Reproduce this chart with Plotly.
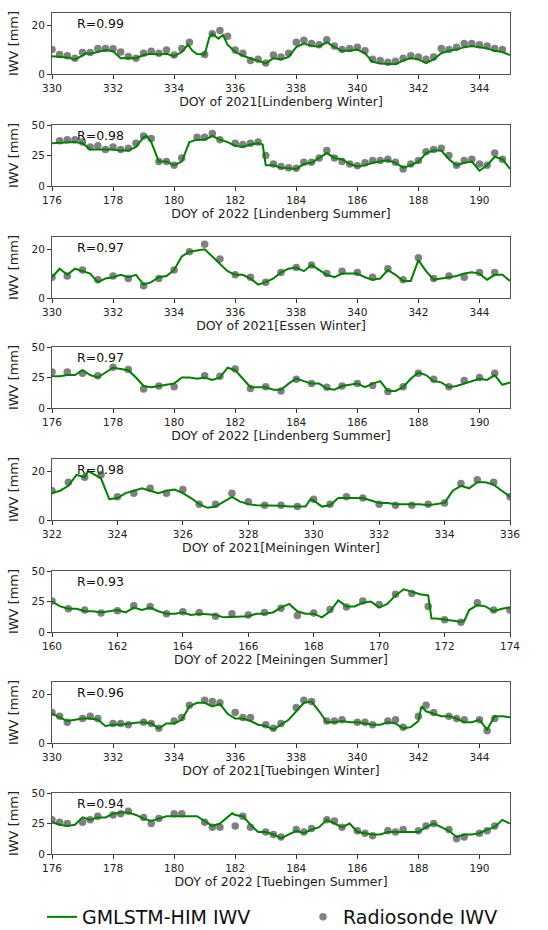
import plotly.graph_objects as go
from plotly.subplots import make_subplots

# ---------------- data ----------------
titles = ["DOY of 2021[Lindenberg Winter]", "DOY of 2022 [Lindenberg Summer]",
          "DOY of 2021[Essen Winter]", "DOY of 2022 [Lindenberg Summer]",
          "DOY of 2021[Meiningen Winter]", "DOY of 2022 [Meiningen Summer]",
          "DOY of 2021[Tuebingen Winter]", "DOY of 2022 [Tuebingen Summer]"]
r_values = ["R=0.99", "R=0.98", "R=0.97", "R=0.97", "R=0.98", "R=0.93", "R=0.96", "R=0.94"]
x_ranges = [[330, 345], [176, 191], [330, 345], [176, 191],
            [322, 336], [160, 174], [330, 345], [176, 191]]
y_ranges = [[0, 25], [0, 50], [0, 25], [0, 50], [0, 25], [0, 50], [0, 25], [0, 50]]
y_dticks = [20, 25, 20, 25, 20, 25, 20, 25]

# Panel 1: Lindenberg winter 2021
p1_line_x = [330, 330.25, 330.5, 330.75, 331, 331.1, 331.25, 331.5, 331.75, 332, 332.25, 332.5, 332.75,
             333, 333.25, 333.5, 333.75, 334, 334.25, 334.45, 334.6, 334.75, 335, 335.15, 335.25,
             335.45, 335.6, 335.75, 336, 336.25, 336.5, 336.75, 337, 337.25, 337.5, 337.75, 338,
             338.25, 338.5, 338.75, 339, 339.25, 339.5, 339.75, 340, 340.25, 340.5, 340.75, 341,
             341.25, 341.5, 341.75, 342, 342.25, 342.5, 342.75, 343, 343.25, 343.5, 343.75, 344,
             344.25, 344.5, 344.75, 345]
p1_line_y = [7.3, 7.2, 6.8, 6.0, 7.5, 8.5, 8.3, 9.0, 9.8, 9.3, 6.5, 6.6, 6.5,
             7.8, 8.3, 8.0, 8.3, 7.3, 9.0, 12.0, 9.5, 8.2, 8.0, 15.0, 16.5,
             14.5, 16.0, 12.0, 9.0, 7.5, 6.5, 5.5, 4.3, 6.5, 6.0, 7.0, 11.0,
             12.5, 11.5, 11.3, 13.0, 11.0, 9.5, 9.5, 10.0, 8.5, 5.0, 4.3, 4.2,
             4.0, 5.5, 6.5, 6.0, 4.5, 6.0, 8.5, 9.5, 10.0, 11.0, 11.5, 11.0,
             10.5, 9.5, 9.0, 7.8]
p1_sonde_x = [330, 330.25, 330.5, 330.75, 331, 331.25, 331.5, 331.75, 332, 332.25, 332.5, 332.75,
              333, 333.25, 333.5, 333.75, 334, 334.25, 334.5, 335, 335.25, 335.5, 335.75, 336,
              336.25, 336.5, 336.75, 337, 337.25, 337.5, 337.75, 338, 338.25, 338.5, 338.75, 339,
              339.25, 339.5, 339.75, 340, 340.25, 340.5, 340.75, 341, 341.25, 341.5, 341.75, 342,
              342.25, 342.5, 342.75, 343, 343.25, 343.5, 343.75, 344, 344.25, 344.5, 344.75]
p1_sonde_y = [10.0, 8.0, 7.5, 6.5, 8.8, 8.8, 10.5, 10.5, 10.3, 9.0, 7.2, 6.5,
              8.5, 9.3, 8.5, 9.8, 7.8, 10.5, 13.0, 8.0, 16.5, 17.8, 15.5, 9.8,
              8.5, 5.5, 6.0, 4.5, 7.8, 7.0, 8.5, 13.0, 13.8, 12.5, 12.0, 14.0,
              11.5, 10.0, 10.5, 11.0, 9.5, 6.0, 5.5, 4.8, 5.2, 6.5, 7.5, 7.0,
              6.0, 7.0, 10.5, 10.0, 11.0, 12.5, 12.5, 12.0, 11.5, 10.5, 10.0]

# Panel 2: Lindenberg summer 2022
p2_line_x = [176, 176.25, 176.5, 176.75, 177, 177.25, 177.5, 177.75, 178, 178.25, 178.5, 178.75,
             179, 179.1, 179.25, 179.5, 179.75, 180, 180.25, 180.5, 180.75, 181, 181.25, 181.5,
             181.75, 182, 182.25, 182.5, 182.75, 182.9, 183, 183.25, 183.5, 183.75, 184, 184.25,
             184.5, 184.75, 185, 185.25, 185.5, 185.75, 186, 186.25, 186.5, 186.75, 187, 187.25,
             187.5, 187.75, 188, 188.25, 188.5, 188.75, 189, 189.25, 189.5, 189.75, 190, 190.25,
             190.5, 190.75, 191]
p2_line_y = [35, 35.5, 36, 36, 35, 30, 30, 30, 30, 29, 29, 32,
             40, 41, 36, 20, 20, 17, 20, 36, 38, 38, 41, 38,
             36, 33, 32, 34, 35, 34, 17, 17, 15, 14.5, 14, 18,
             19, 23, 27, 23, 22, 18, 16, 17, 19, 20, 21, 19,
             15, 17, 20, 27, 29, 29, 22, 17, 19, 20, 12.5, 17,
             24, 22, 14]
p2_sonde_x = [176.25, 176.5, 176.75, 177, 177.25, 177.5, 177.75, 178, 178.25, 178.5, 178.75, 179,
              179.25, 179.5, 179.75, 180, 180.25, 180.75, 181, 181.25, 181.5, 182, 182.25, 182.5,
              182.75, 183, 183.25, 183.5, 183.75, 184, 184.25, 184.5, 184.75, 185, 185.25, 185.5,
              185.75, 186, 186.25, 186.5, 186.75, 187, 187.25, 187.5, 187.75, 188, 188.25, 188.5,
              188.75, 189, 189.25, 189.5, 189.75, 190, 190.25, 190.5, 190.75]
p2_sonde_y = [37, 38, 38, 36, 32, 33, 30, 32, 30, 31, 35, 41,
              39, 20, 20, 17, 23, 40, 40, 43, 38, 35, 34, 35,
              36, 25, 18, 16, 15, 14.5, 19.5, 19.5, 23, 29, 23, 20,
              18, 16.5, 19, 21, 21, 22, 19.5, 14, 18, 21, 28, 30,
              31, 25, 17, 21, 22, 18, 17, 27, 22]

# Panel 3: Essen winter 2021
p3_line_x = [330, 330.25, 330.5, 330.75, 331, 331.25, 331.5, 331.75, 332, 332.25, 332.5, 332.75,
             333, 333.25, 333.5, 333.75, 334, 334.25, 334.5, 334.75, 335, 335.25, 335.5, 335.75,
             336, 336.25, 336.5, 336.75, 337, 337.25, 337.5, 337.75, 338, 338.25, 338.5, 338.75,
             339, 339.25, 339.5, 339.75, 340, 340.25, 340.5, 340.75, 341, 341.25, 341.5, 341.75,
             342, 342.25, 342.5, 342.75, 343, 343.25, 343.5, 343.75, 344, 344.25, 344.5, 344.75, 345]
p3_line_y = [8.5, 12, 9.5, 12, 11, 10, 6.5, 8, 8.5, 9.5, 8.5, 9.5,
             5.5, 6.5, 8.5, 9, 11.5, 17, 19, 19.5, 20, 17, 14, 11,
             9.5, 9.5, 8, 5.5, 6.5, 8, 10.5, 12, 12.5, 11, 13.5, 11.5,
             9.5, 8.5, 10, 10, 10, 8.5, 7.5, 8, 11.5, 9.5, 7, 7,
             15.5, 11, 7.5, 8, 8.5, 9, 10, 10.5, 10, 7.5, 9.5, 9.5, 7]
p3_sonde_x = [330, 330.5, 331, 331.5, 332, 332.5, 333, 333.5, 334, 334.5, 335, 335.5,
              336, 336.5, 337, 337.5, 338, 338.5, 339, 339.5, 340, 340.5, 341, 341.5,
              342, 342.5, 343, 343.5, 344, 344.5]
p3_sonde_y = [8.5, 9, 11.5, 7.5, 9, 8, 5, 8, 11.5, 19, 22, 16,
              9.5, 8.5, 6.5, 10.5, 12.5, 13.5, 10, 11, 10.5, 8.5, 12, 7.5,
              16.5, 8, 9, 8.5, 10.5, 10.5]

# Panel 4: Lindenberg summer 2022 (second)
p4_line_x = [176, 176.25, 176.5, 176.75, 177, 177.25, 177.5, 177.75, 178, 178.25, 178.5, 178.75,
             179, 179.25, 179.5, 179.75, 180, 180.25, 180.5, 180.75, 181, 181.25, 181.5, 181.75,
             182, 182.25, 182.5, 182.75, 183, 183.25, 183.5, 183.75, 184, 184.25, 184.5, 184.75,
             185, 185.25, 185.5, 185.75, 186, 186.25, 186.5, 186.75, 187, 187.25, 187.5, 187.75,
             188, 188.25, 188.5, 188.75, 189, 189.25, 189.5, 189.75, 190, 190.25, 190.5, 190.75, 191]
p4_line_y = [26, 26, 27, 27, 31, 27, 25, 29, 33, 32, 31, 25,
             18, 17, 18, 19, 20, 25, 25, 24, 25, 23, 25, 33,
             31, 24, 17, 17, 17, 15, 15, 20, 24, 22, 20, 20,
             16, 15, 18, 19, 20, 17, 20, 22, 14, 14, 17, 24,
             29, 27, 22, 21, 17, 18, 20, 22, 24, 23, 27, 19, 21]
p4_sonde_x = [176, 176.5, 177, 177.5, 178, 178.5, 179, 179.5, 180, 181, 181.5, 182,
              182.5, 183, 183.5, 184, 184.5, 185, 185.5, 186, 186.5, 187, 187.5, 188,
              188.5, 189, 189.5, 190, 190.5]
p4_sonde_y = [29.5, 29.5, 28.5, 26.5, 33.5, 31.5, 15.5, 18, 17.5, 26.5, 26, 32,
              16, 17.5, 14, 23.5, 20, 17, 18, 20, 18.5, 13.5, 17.5, 28.5,
              23.5, 17.5, 22.5, 25, 28.5]

# Panel 5: Meiningen winter 2021
p5_line_x = [322, 322.25, 322.5, 322.75, 323, 323.1, 323.25, 323.5, 323.75, 324, 324.25, 324.5,
             324.75, 325, 325.25, 325.5, 325.75, 326, 326.25, 326.5, 326.75, 327, 327.25, 327.5,
             327.75, 328, 328.25, 328.5, 328.75, 329, 329.25, 329.5, 329.75, 329.9, 330, 330.25,
             330.5, 330.75, 331, 331.25, 331.5, 331.75, 332, 332.25, 332.5, 332.75, 333, 333.25,
             333.5, 333.75, 334, 334.25, 334.5, 334.75, 335, 335.25, 335.5, 335.75, 336]
p5_line_y = [11, 12, 14, 18.5, 17.5, 20, 19, 17, 8.5, 9, 11, 12,
             13, 12, 11, 12, 12.5, 11, 9, 6.5, 5, 5.5, 7.5, 9.5,
             7.5, 6.5, 6, 6, 5.8, 5.8, 5.5, 5.5, 5.5, 8.5, 8, 5.5,
             6, 9, 9, 9, 9, 8, 7, 7, 6.5, 6.5, 6.5, 6.5,
             6, 6.5, 7, 12, 14, 13, 15.5, 15.5, 14.5, 12, 9.5]
p5_sonde_x = [322, 322.5, 323, 323.5, 324, 324.5, 325, 325.5, 326, 326.5, 327, 327.5,
              328, 328.5, 329, 329.5, 330, 330.5, 331, 331.5, 332, 332.5, 333, 333.5,
              334, 334.5, 335, 335.5, 336]
p5_sonde_y = [12, 15.5, 17.5, 18.5, 9.5, 11, 13, 11, 12.5, 6.5, 6.5, 11,
              7.5, 6, 6, 5.5, 8.5, 6.5, 9.5, 9, 6.5, 6, 6, 6.5,
              7, 15, 16.5, 15.5, 9.5]

# Panel 6: Meiningen summer 2022
p6_line_x = [160, 160.25, 160.5, 160.75, 161, 161.25, 161.5, 161.75, 162, 162.25, 162.5, 162.75,
             163, 163.25, 163.5, 163.75, 164, 164.25, 164.5, 164.75, 165, 165.25, 165.5, 165.75,
             166, 166.25, 166.5, 166.75, 167, 167.25, 167.5, 167.75, 168, 168.25, 168.5, 168.75,
             169, 169.25, 169.5, 169.75, 170, 170.25, 170.5, 170.75, 171, 171.25, 171.5, 171.6,
             171.75, 172, 172.25, 172.5, 172.6, 172.75, 173, 173.25, 173.5, 173.75, 174]
p6_line_y = [25, 21, 19, 19, 17, 17, 16, 17, 18, 16, 20, 18,
             20, 17, 15, 15, 16, 14, 15, 14.5, 14, 12, 12.5, 13,
             13, 15, 15, 16, 20, 23, 17, 15, 15, 12, 17, 26,
             21, 21, 24, 25, 20, 23, 30, 35, 33, 31, 30, 11,
             11, 10, 9, 8.5, 9, 18, 22, 21, 17, 19, 20]
p6_sonde_x = [160, 160.5, 161, 161.5, 162, 162.5, 163, 163.5, 164, 164.5, 165, 165.5,
              166, 166.5, 167, 167.5, 168, 168.5, 169, 169.5, 170, 170.5, 171, 171.5,
              172, 172.5, 173, 173.5, 174]
p6_sonde_y = [25.5, 19, 18, 15.5, 17.5, 21.5, 21, 15, 16.5, 16, 13, 15,
              14, 16, 19.5, 13.5, 15.5, 18.5, 20.5, 25.5, 22.5, 31, 31.5, 21,
              10, 8, 24, 18, 18]

# Panel 7: Tuebingen winter 2021
p7_line_x = [330, 330.25, 330.5, 330.75, 331, 331.25, 331.5, 331.75, 332, 332.25, 332.5, 332.75,
             333, 333.25, 333.5, 333.75, 334, 334.25, 334.5, 334.75, 335, 335.25, 335.5, 335.75,
             336, 336.25, 336.5, 336.75, 337, 337.25, 337.5, 337.75, 338, 338.25, 338.5, 338.75,
             339, 339.25, 339.5, 339.75, 340, 340.25, 340.5, 340.75, 341, 341.25, 341.5, 341.75,
             342, 342.1, 342.25, 342.5, 342.75, 343, 343.25, 343.5, 343.75, 344, 344.25, 344.5,
             344.75, 345]
p7_line_y = [12, 10.5, 9, 9.5, 10, 10, 9.5, 7, 7.5, 7.5, 8, 8.3,
             8.5, 8, 6, 8, 8, 9.5, 15, 16.5, 16.5, 15, 16, 12,
             10, 10, 9, 7.5, 7, 5.5, 7.5, 9.5, 13, 16.5, 17, 13,
             8.5, 8.5, 9, 8.5, 8.5, 8, 7.5, 7.5, 8.5, 8, 6, 6.5,
             9, 15, 13, 12, 11, 11, 10, 8.5, 8.5, 9.5, 5.5, 11,
             11, 10.5]
p7_sonde_x = [330, 330.25, 330.5, 331, 331.25, 331.5, 332, 332.25, 332.5, 333, 333.25, 333.5,
              334, 334.25, 334.5, 335, 335.25, 335.5, 336, 336.25, 336.5, 337, 337.25, 337.5,
              338, 338.25, 338.5, 339, 339.25, 339.5, 340, 340.25, 340.5, 341, 341.25, 341.5,
              342, 342.25, 342.5, 343, 343.25, 343.5, 344, 344.25, 344.5]
p7_sonde_y = [12.5, 11, 8.5, 10, 11, 10, 8, 8, 7.5, 8.5, 8, 6,
              9, 10.5, 15.5, 17.5, 17, 16.5, 12.5, 10.5, 10.5, 7.5, 6, 8,
              14.5, 17.5, 17, 9, 9, 9.5, 8.5, 8.5, 7.5, 9, 9.5, 6.5,
              11, 15.5, 12.5, 11, 10, 9.5, 9.5, 5, 10]

# Panel 8: Tuebingen summer 2022
p8_line_x = [176, 176.25, 176.5, 176.75, 177, 177.25, 177.5, 177.75, 178, 178.25, 178.5, 178.75,
             179, 179.25, 179.5, 179.75, 180, 180.25, 180.5, 180.75, 181, 181.25, 181.5, 181.75,
             181.9, 182, 182.25, 182.5, 182.75, 183, 183.25, 183.5, 183.75, 184, 184.25, 184.5,
             184.75, 185, 185.25, 185.5, 185.75, 186, 186.25, 186.5, 186.75, 187, 187.25, 187.5,
             187.75, 188, 188.25, 188.5, 188.75, 189, 189.25, 189.5, 189.75, 190, 190.25, 190.5,
             190.75, 191]
p8_line_y = [26, 24, 23, 24, 30, 28, 30, 30, 33, 34, 34, 32,
             29, 27, 29, 31, 31, 31, 31, 31, 27, 23, 25, 30,
             33.5, 32, 31, 24, 18, 18, 16, 13, 16, 19, 17, 20,
             22, 28, 25, 22, 25, 18, 17, 16, 16, 18, 18, 18,
             18, 18, 22, 25, 22, 19, 14, 16, 16, 17, 20, 22,
             28, 25]
p8_sonde_x = [176, 176.25, 176.5, 177, 177.25, 177.5, 178, 178.25, 178.5, 179, 179.25, 179.5,
              180, 180.25, 181, 181.25, 181.5, 182, 182.25, 182.5, 183, 183.25, 183.5, 184,
              184.25, 184.5, 185, 185.25, 185.5, 186, 186.25, 186.5, 187, 187.25, 187.5, 188,
              188.25, 188.5, 189, 189.25, 189.5, 190, 190.25, 190.5]
p8_sonde_y = [28, 26, 25, 26, 28, 31, 32, 33, 35, 30, 25, 29,
              33, 33, 26, 22, 22, 23, 31, 22, 18, 16, 14, 20,
              18, 21, 28, 27, 22, 19, 17, 15, 19, 18, 20, 19,
              23, 25, 20, 12.5, 14, 17, 19, 23]

line_xs = [p1_line_x, p2_line_x, p3_line_x, p4_line_x, p5_line_x, p6_line_x, p7_line_x, p8_line_x]
line_ys = [p1_line_y, p2_line_y, p3_line_y, p4_line_y, p5_line_y, p6_line_y, p7_line_y, p8_line_y]
sonde_xs = [p1_sonde_x, p2_sonde_x, p3_sonde_x, p4_sonde_x, p5_sonde_x, p6_sonde_x, p7_sonde_x, p8_sonde_x]
sonde_ys = [p1_sonde_y, p2_sonde_y, p3_sonde_y, p4_sonde_y, p5_sonde_y, p6_sonde_y, p7_sonde_y, p8_sonde_y]

# ---------------- layout ----------------
W, H = 548, 930
panel_px = [(13, 74), (125, 186), (237, 298), (347, 408),
            (459, 520), (571, 632), (682, 743), (793, 854)]
x_dom = [52 / W, 510 / W]

FONT = "DejaVu Sans"
fig = make_subplots(rows=8, cols=1)

for i in range(8):
    r = i + 1
    fig.add_trace(go.Scatter(x=sonde_xs[i], y=sonde_ys[i], mode="markers",
                             marker=dict(color="#808080", size=7.5),
                             name="Radiosonde IWV", legend="legend2",
                             showlegend=(i == 0)), row=r, col=1)
    fig.add_trace(go.Scatter(x=line_xs[i], y=line_ys[i], mode="lines",
                             line=dict(color="#008000", width=2),
                             name="GMLSTM-HIM IWV", legend="legend",
                             showlegend=(i == 0)), row=r, col=1)
    top, bot = panel_px[i]
    sfx = "" if r == 1 else str(r)
    fig.update_layout(**{
        "xaxis" + sfx: dict(domain=x_dom, range=x_ranges[i], dtick=2, tick0=0,
                            showgrid=False, zeroline=False, showline=True, mirror=True,
                            linecolor="#555", linewidth=1, ticks="outside", ticklen=4,
                            tickcolor="#333", tickfont=dict(size=10.5, color="#222", family=FONT),
                            title=dict(text=titles[i], font=dict(size=12.5, color="#222", family=FONT),
                                       standoff=3)),
        "yaxis" + sfx: dict(domain=[1 - bot / H, 1 - top / H], range=y_ranges[i], dtick=y_dticks[i],
                            showgrid=False, zeroline=False, showline=True, mirror=True,
                            linecolor="#555", linewidth=1, ticks="outside", ticklen=4,
                            tickcolor="#333", tickfont=dict(size=10.5, color="#222", family=FONT),
                            title=dict(text="IWV [mm]", font=dict(size=13, color="#222", family=FONT),
                                       standoff=9)),
    })
    fig.add_annotation(text=r_values[i], xref=("x" + sfx + " domain"), yref=("y" + sfx + " domain"),
                       x=0.05, y=1, xanchor="left", yanchor="top", yshift=-1, showarrow=False,
                       font=dict(size=12.5, color="#111", family=FONT))

leg_common = dict(orientation="h", y=1 - 917 / H, xanchor="left", yanchor="middle",
                  font=dict(size=19, color="#111", family=FONT), bgcolor="rgba(0,0,0,0)")
fig.update_layout(
    width=W, height=H, margin=dict(l=0, r=0, t=0, b=0, autoexpand=False),
    paper_bgcolor="white", plot_bgcolor="white",
    font=dict(family=FONT, color="#222"),
    showlegend=True,
    legend=dict(x=42 / W, **leg_common),
    legend2=dict(x=303 / W, **leg_common),
)

fig.write_html("out.html")
